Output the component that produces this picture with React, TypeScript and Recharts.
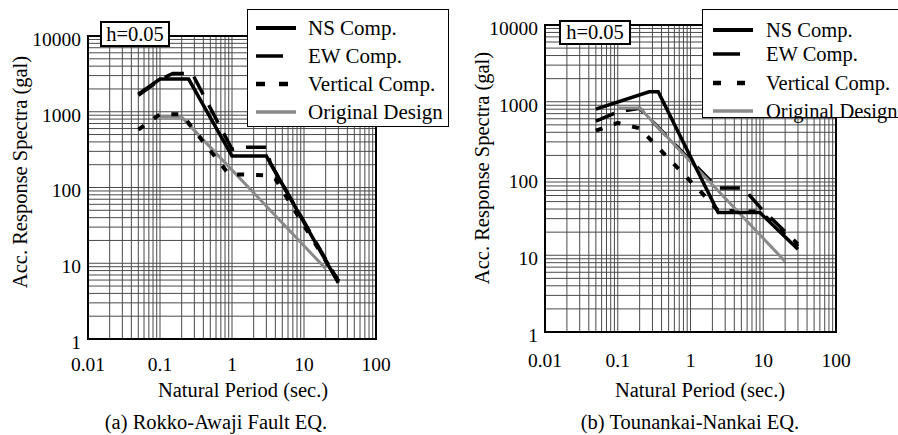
import { LineChart, Line, XAxis, YAxis, CartesianGrid, ReferenceArea } from "recharts"

// (a) Rokko-Awaji Fault EQ.
const periodNsA = [0.05, 0.1, 0.25, 1, 3, 30]
const accNsA = [1700, 2700, 2700, 260, 260, 5.5]
const periodEwA = [0.05, 0.1, 0.15, 0.28, 1, 1.6, 3, 3.4, 30]
const accEwA = [1650, 2650, 3200, 3200, 320, 340, 340, 210, 5.8]
const periodVertA = [0.05, 0.1, 0.2, 0.9, 3, 4, 30]
const accVertA = [580, 930, 930, 150, 145, 130, 5.8]
const periodDesignA = [0.1, 0.2, 20]
const accDesignA = [850, 850, 8.5]

// (b) Tounankai-Nankai EQ.
const periodNsB = [0.05, 0.27, 0.36, 2.4, 9, 30]
const accNsB = [800, 1350, 1350, 36, 36, 12]
const periodEwB = [0.05, 0.1, 0.2, 2, 2.3, 5.5, 6.5, 9.5, 30]
const accEwB = [560, 740, 820, 88, 75, 75, 60, 40, 14]
const periodVertB = [0.05, 0.1, 0.2, 1.6, 2.4, 9, 30]
const accVertB = [420, 530, 450, 58, 38, 37, 13]
const periodDesignB = [0.1, 0.2, 20]
const accDesignB = [830, 830, 8.3]

const xMajor = [0.01, 0.1, 1, 10, 100]
const yMajor = [1, 10, 100, 1000, 10000]
const mults = [1, 2, 3, 4, 5, 6, 7, 8, 9]
const xGrid = [...xMajor.slice(0, -1).flatMap((d) => mults.map((m) => +(m * d).toPrecision(3))), 100]
const yGrid = [...yMajor.slice(0, -1).flatMap((d) => mults.map((m) => +(m * d).toPrecision(3))), 10000]

const rows = (t: number[], v: number[]) => t.map((x, i) => ({ t: x, v: v[i] }))

const FONT = "'Times New Roman', 'Liberation Serif', Tinos, 'DejaVu Serif', serif"

const lineStyles = {
  ns: { stroke: "#000", strokeWidth: 3.5 },
  ew: { stroke: "#000", strokeWidth: 3.5, strokeDasharray: "20 12" },
  vert: { stroke: "#000", strokeWidth: 4, strokeDasharray: "7 12" },
  design: { stroke: "#8a8a8a", strokeWidth: 3 },
}

type Series = { key: string; data: { t: number; v: number }[]; style: any }

function Panel({ width, margin, yWidth, xTickMargin, series }: any) {
  return (
    <LineChart width={width} height={435} margin={margin} style={{ fontFamily: FONT }}>
      <CartesianGrid stroke="#4a4a4a" strokeWidth={1} />
      <XAxis
        type="number"
        dataKey="t"
        scale="log"
        domain={[0.01, 100]}
        allowDataOverflow
        ticks={xGrid}
        interval={0}
        tickLine={false}
        axisLine={false}
        height={30}
        tickMargin={xTickMargin}
        tick={{ fontSize: 19.5, fill: "#000", fontFamily: FONT }}
        tickFormatter={(v: number) => (xMajor.includes(v) ? String(v) : "")}
      />
      <YAxis
        type="number"
        scale="log"
        domain={[1, 10000]}
        allowDataOverflow
        ticks={yGrid}
        interval={0}
        tickLine={false}
        axisLine={false}
        width={yWidth}
        tickMargin={1}
        tick={{ fontSize: 19.5, fill: "#000", dy: 3, fontFamily: FONT }}
        tickFormatter={(v: number) => (yMajor.includes(v) ? String(v) : "")}
      />
      <ReferenceArea x1={0.01} x2={100} y1={1} y2={10000} fill="none" stroke="#000" strokeWidth={2} />
      {series.map((s: Series) => (
        <Line
          key={s.key}
          data={s.data}
          dataKey="v"
          type="linear"
          dot={false}
          isAnimationActive={false}
          {...s.style}
        />
      ))}
    </LineChart>
  )
}

function Txt({ x, y, size = 20.5, rotate = 0, children }: any) {
  return (
    <div
      style={{
        position: "absolute",
        left: x,
        top: y,
        transform: `translate(-50%, -50%) rotate(${rotate}deg)`,
        fontSize: size,
        lineHeight: 1,
        whiteSpace: "nowrap",
        fontFamily: FONT,
      }}
    >
      {children}
    </div>
  )
}

function LegendBox({ left, top, width, height, rowsY, sampleX, textX, size, vertDash }: any) {
  const items = [
    { label: "NS Comp.", stroke: "#000", w: 4, x2: 40, dash: undefined },
    { label: "EW Comp.", stroke: "#000", w: 3.5, x2: 27, dash: undefined },
    { label: "Vertical Comp.", stroke: "#000", w: 4.5, x2: 40, dash: vertDash },
    { label: "Original Design", stroke: "#8a8a8a", w: 3.5, x2: 40, dash: undefined },
  ]
  return (
    <div
      style={{
        position: "absolute",
        left,
        top,
        width,
        height,
        border: "1.5px solid #000",
        background: "#fff",
        boxSizing: "border-box",
        fontFamily: FONT,
      }}
    >
      {items.map((it, i) => (
        <div key={it.label}>
          <svg
            width={42}
            height={8}
            style={{ position: "absolute", left: sampleX - left, top: rowsY[i] - top - 4 }}
          >
            <line x1={0} y1={4} x2={it.x2} y2={4} stroke={it.stroke} strokeWidth={it.w} strokeDasharray={it.dash} />
          </svg>
          <div
            style={{
              position: "absolute",
              left: textX - left,
              top: rowsY[i] - top,
              transform: "translateY(-50%)",
              fontSize: size,
              lineHeight: 1,
              whiteSpace: "nowrap",
            }}
          >
            {it.label}
          </div>
        </div>
      ))}
    </div>
  )
}

function HBox({ left, top, width, height }: any) {
  return (
    <div
      style={{
        position: "absolute",
        left,
        top,
        width,
        height,
        border: "2px solid #000",
        background: "#fff",
        boxSizing: "border-box",
        fontSize: 20.5,
        lineHeight: `${height - 4}px`,
        textAlign: "center",
        fontFamily: FONT,
      }}
    >
      h=0.05
    </div>
  )
}

export default function App() {
  const seriesA: Series[] = [
    { key: "design", data: rows(periodDesignA, accDesignA), style: lineStyles.design },
    { key: "vert", data: rows(periodVertA, accVertA), style: lineStyles.vert },
    { key: "ew", data: rows(periodEwA, accEwA), style: lineStyles.ew },
    { key: "ns", data: rows(periodNsA, accNsA), style: lineStyles.ns },
  ]
  const seriesB: Series[] = [
    { key: "vert", data: rows(periodVertB, accVertB), style: lineStyles.vert },
    { key: "ew", data: rows(periodEwB, accEwB), style: lineStyles.ew },
    { key: "design", data: rows(periodDesignB, accDesignB), style: lineStyles.design },
    { key: "ns", data: rows(periodNsB, accNsB), style: lineStyles.ns },
  ]

  return (
    <div
      style={{
        position: "absolute",
        left: 0,
        top: 0,
        width: 898,
        height: 435,
        overflow: "hidden",
        background: "#fff",
        fontFamily: FONT,
        color: "#000",
      }}
    >
      <div style={{ position: "absolute", left: 0, top: 0 }}>
        <Panel
          width={450}
          margin={{ top: 36, right: 74, left: 0, bottom: 66 }}
          yWidth={88}
          xTickMargin={12}
          series={seriesA}
        />
      </div>
      <div style={{ position: "absolute", left: 450, top: 0 }}>
        <Panel
          width={448}
          margin={{ top: 25, right: 62, left: 0, bottom: 73 }}
          yWidth={95}
          xTickMargin={15}
          series={seriesB}
        />
      </div>

      <HBox left={100} top={21} width={70} height={26} />
      <HBox left={559} top={20} width={72} height={25} />

      <LegendBox
        left={247}
        top={9}
        width={202}
        height={118}
        rowsY={[27, 55, 83, 111]}
        sampleX={255}
        textX={307}
        size={21}
        vertDash="9 14"
      />
      <LegendBox
        left={702}
        top={9}
        width={220}
        height={109}
        rowsY={[29, 53, 82, 110]}
        sampleX={712}
        textX={765}
        size={20.5}
        vertDash="8 16"
      />

      <Txt x={20} y={172} rotate={-90}>Acc. Response Spectra (gal)</Txt>
      <Txt x={482} y={168} rotate={-90}>Acc. Response Spectra (gal)</Txt>
      <Txt x={243} y={390}>Natural Period (sec.)</Txt>
      <Txt x={700} y={390}>Natural Period (sec.)</Txt>
      <Txt x={216} y={422}>(a) Rokko-Awaji Fault EQ.</Txt>
      <Txt x={690} y={422}>(b) Tounankai-Nankai EQ.</Txt>
    </div>
  )
}
